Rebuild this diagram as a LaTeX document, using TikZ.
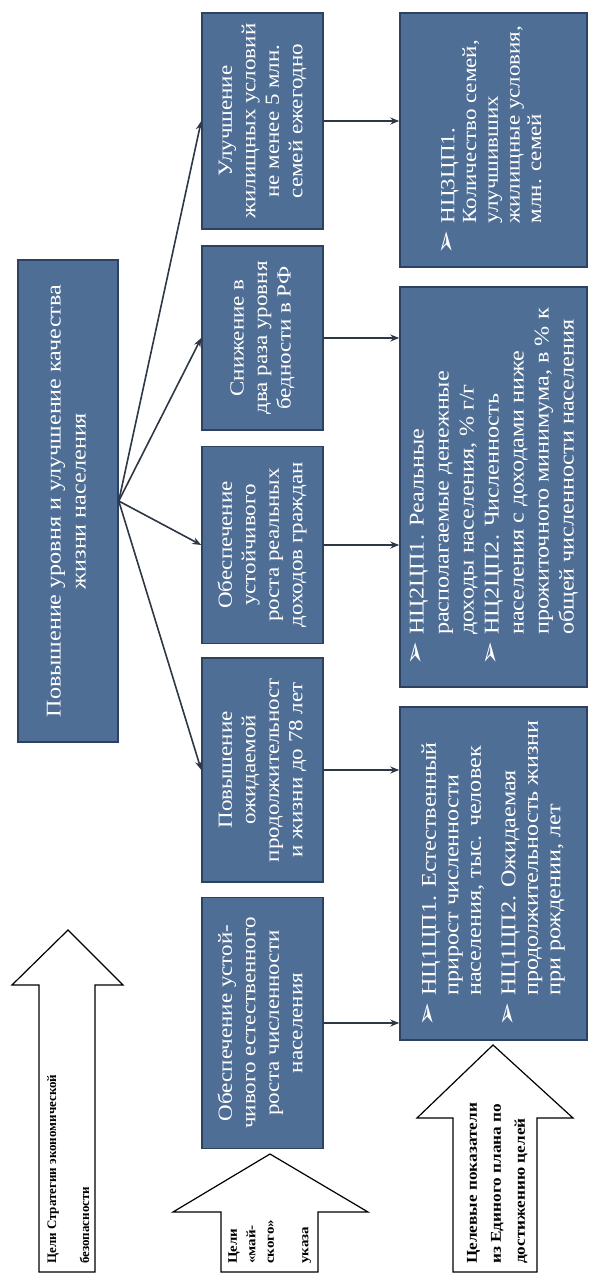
\documentclass[tikz,border=0pt]{standalone}
\usepackage{graphicx}
\usepackage{fontspec}
\setmainfont{Liberation Serif}
\newfontfamily\symfont{DejaVu Sans}
\usetikzlibrary{arrows.meta}
\definecolor{boxblue}{RGB}{79,110,149}
\definecolor{boxedge}{RGB}{44,66,96}
\definecolor{linecol}{RGB}{45,55,70}
\newcommand{\wide}[1]{\scalebox{1.15}[1]{#1}}
\newcommand{\bul}{{\symfont\fontsize{25}{19}\selectfont ➢}}
\begin{document}
\begin{tikzpicture}[x=1pt,y=-1pt,
  box/.style={draw=boxedge, line width=1.5pt, fill=boxblue, text=white, rotate=90, inner sep=0pt},
  goal/.style={box, font=\fontsize{20}{23.5}\selectfont, minimum height=121pt},
  ind/.style={box, minimum height=187pt},
  conn/.style={draw=linecol, line width=1.6pt, -{Stealth[length=9pt,width=7pt]}},
  hollow/.style={draw=black, line width=1.2pt, fill=white, line join=miter},
  albl/.style={rotate=90, font=\bfseries, text=black, inner sep=0pt, anchor=west}]
\useasboundingbox (0,0) rectangle (590,1274);

% main box
\node[box, minimum width=482pt, minimum height=100pt, font=\fontsize{21}{25}\selectfont] (main) at (68,501)
  {\wide{\begin{tabular}{@{}c@{}}Повышение уровня и улучшение качества\\жизни населения\end{tabular}}};

% goal boxes
\node[goal, minimum width=216pt] (g5) at (262.5,121)
  {\wide{\begin{tabular}{@{}c@{}}Улучшение\\жилищных условий\\не менее 5 млн.\\семей ежегодно\end{tabular}}};
\node[goal, minimum width=184pt] (g4) at (262.5,338)
  {\wide{\begin{tabular}{@{}c@{}}Снижение в\\два раза уровня\\бедности в РФ\end{tabular}}};
\node[goal, minimum width=197pt] (g3) at (262.5,545)
  {\wide{\begin{tabular}{@{}c@{}}Обеспечение\\устойчивого\\роста реальных\\доходов граждан\end{tabular}}};
\node[goal, minimum width=224pt] (g2) at (262.5,770)
  {\wide{\begin{tabular}{@{}c@{}}Повышение\\ожидаемой\\продолжительност\\и жизни до 78 лет\end{tabular}}};
\node[goal, minimum width=251pt] (g1) at (262.5,1023)
  {\wide{\begin{tabular}{@{}c@{}}Обеспечение устой-\\чивого естественного\\роста численности\\населения\end{tabular}}};

% indicator boxes
\node[ind, minimum width=254pt, font=\fontsize{20}{21.7}\selectfont] (i3) at (493.5,140)
  {\wide{\begin{tabular}{@{}l@{\hspace{6pt}}l@{}}\bul & НЦ3ЦП1.\\ & Количество семей,\\ & улучшивших\\ & жилищные условия,\\ & млн. семей\end{tabular}}};
\node[ind, minimum width=400pt, font=\fontsize{21}{25}\selectfont] (i2) at (493.5,487)
  {\wide{\begin{tabular}{@{}l@{\hspace{6pt}}l@{}}\bul & НЦ2ЦП1. Реальные\\ & располагаемые денежные\\ & доходы населения, \% г/г\\
  \bul & НЦ2ЦП2. Численность\\ & населения с доходами ниже\\ & прожиточного минимума, в \% к\\ & общей численности населения\end{tabular}}};
\node[ind, minimum width=333pt, font=\fontsize{21}{22.5}\selectfont] (i1) at (493.5,873.5)
  {\wide{\begin{tabular}{@{}l@{\hspace{6pt}}l@{}}\bul & НЦ1ЦП1. Естественный\\ & прирост численности\\ & населения, тыс. человек\\[12pt]
  \bul & НЦ1ЦП2. Ожидаемая\\ & продолжительность жизни\\ & при рождении, лет\end{tabular}}};

% connectors
\draw[conn] (main.south) -- (g5.north);
\draw[conn] (main.south) -- (g4.north);
\draw[conn] (main.south) -- (g3.north);
\draw[conn] (main.south) -- (g2.north);
\draw[conn] (g5.south) -- (g5.south -| i3.north);
\draw[conn] (g4.south) -- (g4.south -| i2.north);
\draw[conn] (g3.south) -- (g3.south -| i2.north);
\draw[conn] (g2.south) -- (g2.south -| i1.north);
\draw[conn] (g1.south) -- (g1.south -| i1.north);

% hollow arrows
\draw[hollow] (39,1272) -- (39,985) -- (12,985) -- (68,930) -- (123,985) -- (95,985) -- (95,1272) -- cycle;
\draw[hollow] (221,1272) -- (221,1212) -- (173,1212) -- (270,1154) -- (368,1212) -- (318,1212) -- (318,1272) -- cycle;
\draw[hollow] (453,1272) -- (453,1118) -- (417,1118) -- (493,1045) -- (573,1118) -- (537,1118) -- (537,1272) -- cycle;

% arrow labels
\node[albl, font=\bfseries\fontsize{13}{33}\selectfont] (l1) at (66,1264)
  {\begin{tabular}{@{}l@{}}Цели Стратегии экономической\\безопасности\end{tabular}};
\node[albl, font=\bfseries\fontsize{13}{18.5}\selectfont] (l2) at (268.8,1264)
  {\wide{\begin{tabular}{@{}l@{}}Цели\\«май-\\ского»\\[16pt]указа\end{tabular}}};
\node[albl, font=\bfseries\fontsize{15}{24}\selectfont] (l3) at (496,1264)
  {\wide{\begin{tabular}{@{}l@{}}Целевые показатели\\из Единого плана по\\достижению целей\end{tabular}}};
\end{tikzpicture}
\end{document}
